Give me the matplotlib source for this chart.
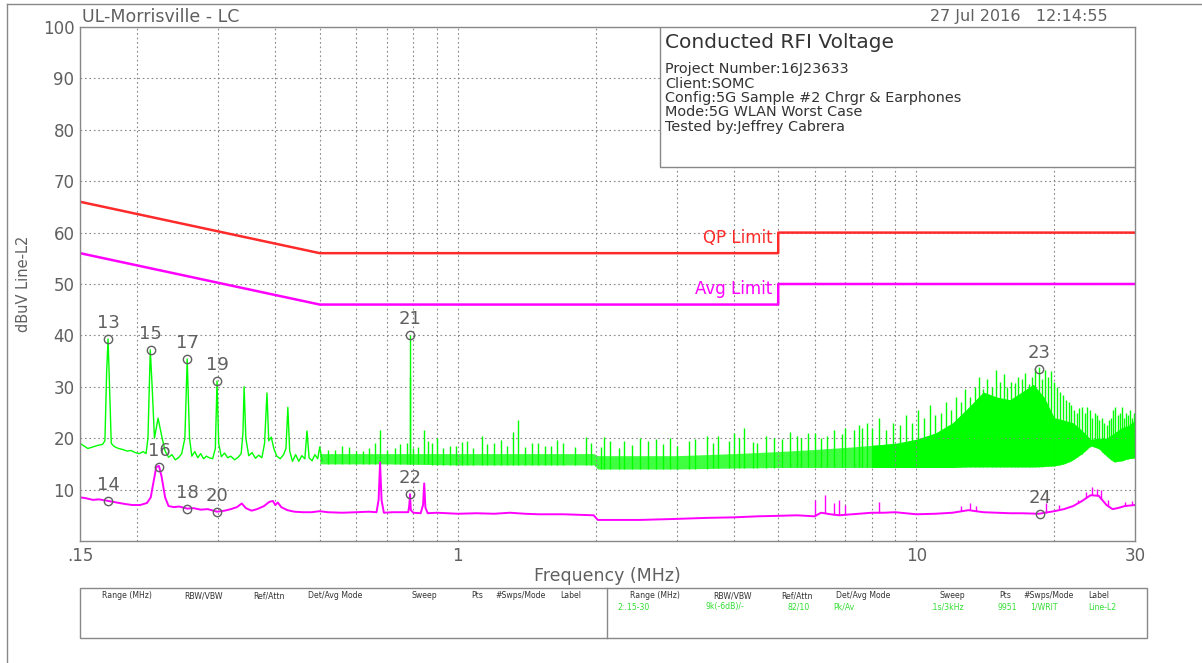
import numpy as np
import matplotlib
matplotlib.use('Agg')
import matplotlib.pyplot as plt
from matplotlib.ticker import FixedLocator, LogLocator, NullFormatter
from matplotlib.lines import Line2D

W, H = 1202, 663

# ---- data ----
# limit lines (MHz, dBuV)
qp_f = [0.15, 0.5, 5.0, 5.0, 30.0]
qp_db = [66, 56, 56, 60, 60]
avg_lim_f = [0.15, 0.5, 5.0, 5.0, 30.0]
avg_lim_db = [56, 46, 46, 50, 50]

# peak trace (green), low-frequency part
pk_f = [0.150, 0.153, 0.156, 0.160, 0.164, 0.168, 0.170, 0.1715, 0.1727, 0.1740, 0.1755,
        0.178, 0.182, 0.186, 0.190, 0.194, 0.198, 0.202, 0.206, 0.209, 0.211, 0.2135,
        0.2155, 0.218, 0.222, 0.226, 0.230, 0.234, 0.238, 0.242, 0.246, 0.250, 0.254,
        0.257, 0.260, 0.263, 0.267, 0.271, 0.275, 0.279, 0.283, 0.287, 0.292, 0.296,
        0.2985, 0.301, 0.305, 0.310, 0.315, 0.320, 0.326, 0.332, 0.337, 0.340, 0.342,
        0.345, 0.350, 0.356, 0.362, 0.368, 0.374, 0.379, 0.3836, 0.387, 0.392, 0.397,
        0.403, 0.410, 0.417, 0.422, 0.426, 0.430, 0.436, 0.443, 0.450, 0.457, 0.464,
        0.469, 0.474, 0.481, 0.488, 0.495, 0.500, 0.506]
pk_db = [19.0, 18.5, 18.0, 18.3, 18.6, 18.8, 19.5, 33.0, 39.3, 30.0, 19.0,
         18.4, 18.0, 17.8, 17.5, 17.6, 17.2, 17.0, 17.4, 17.0, 20.0, 37.2,
         30.0, 20.0, 23.9, 20.5, 17.5, 16.3, 16.8, 15.8, 16.2, 17.0, 20.0,
         35.4, 20.0, 16.5, 17.4, 16.2, 17.0, 16.0, 16.5, 16.2, 16.0, 18.0,
         31.1, 19.0, 16.4, 17.1, 16.2, 16.5, 15.8, 16.3, 17.0, 21.0, 30.0,
         20.0, 16.6, 17.2, 16.1, 16.7, 16.2, 19.0, 28.8, 19.5, 20.2, 18.0,
         16.5, 16.0, 16.8, 18.0, 26.0, 17.5, 15.5, 16.8, 15.5, 16.6, 16.0,
         21.4, 16.2, 15.6, 16.8, 16.0, 18.3, 15.6]

# peak trace noise floor, 0.5 - 9 MHz (MHz, low, high)
floor_f = [0.5, 0.7, 1.0, 1.5, 1.98, 2.02, 3.0, 4.0, 5.0, 6.0, 7.0, 8.0, 9.0]
floor_lo = [15.0, 15.0, 14.8, 14.8, 14.8, 14.0, 14.0, 14.2, 14.3, 14.3, 14.3, 14.3, 14.3]
floor_hi = [17.0, 17.0, 17.0, 17.0, 17.0, 16.6, 16.6, 17.0, 17.4, 17.8, 18.2, 18.6, 19.0]

# peak trace dense band, 8 - 30 MHz (MHz, low, high)
dense_f = [8.0, 9.0, 10, 11, 12, 13, 14, 15, 16, 17, 18, 19, 20, 21, 22, 23, 24, 25, 26,
           27, 28, 29, 30]
dense_lo = [14.3, 14.3, 14.3, 14.3, 14.3, 14.4, 14.4, 14.4, 14.4, 14.4, 14.4, 14.5, 14.6,
            15.0, 15.8, 17.0, 18.5, 18.0, 16.5, 15.4, 15.6, 16.0, 16.2]
dense_hi = [18.6, 19.0, 19.8, 21.0, 23.0, 26.0, 29.0, 28.0, 27.5, 29.0, 30.5, 28.0, 24.0,
            23.5, 23.0, 21.5, 19.8, 20.0, 20.0, 21.0, 22.0, 22.5, 23.5]

# peak trace single spikes above the noise floor
spike_f = [0.52, 0.54, 0.56, 0.58, 0.60, 0.62, 0.64, 0.66, 0.677, 0.70, 0.73, 0.75, 0.775,
           0.786, 0.787, 0.80, 0.82, 0.845, 0.86, 0.88, 0.90, 0.93, 0.96, 0.99, 1.02,
           1.05, 1.08, 1.13, 1.16, 1.20, 1.24, 1.28, 1.32, 1.35, 1.40, 1.45, 1.50, 1.55,
           1.60, 1.65, 1.70, 1.80, 1.90, 1.95, 2.05, 2.08, 2.15, 2.25, 2.30, 2.40, 2.50,
           2.60, 2.70, 2.80, 2.90, 3.0, 3.2, 3.3, 3.5, 3.6, 3.7, 3.9, 4.0, 4.1, 4.2, 4.4,
           4.5, 4.7, 4.9, 5.1, 5.3, 5.5, 5.6, 5.8, 6.0, 6.2, 6.4, 6.6, 6.9, 7.0, 7.3, 7.5,
           7.6, 7.8,
           8.0, 8.3, 8.6, 8.9, 9.2, 9.5, 9.8, 10.1, 10.4, 10.7, 11.0, 11.3, 11.6, 11.9,
           12.2, 12.5, 12.8, 13.1, 13.4, 13.7, 14.0, 14.3, 14.6, 14.9, 15.2, 15.5, 15.8,
           16.1, 16.4, 16.7, 17.0, 17.3, 17.6, 17.9, 18.2, 18.5, 18.8, 19.1, 19.4, 19.7,
           20.0, 20.3, 20.6, 20.9, 21.2, 21.5, 21.8, 22.1, 22.4, 22.7, 23.0, 23.3, 23.6,
           23.9, 24.2, 24.5, 24.8, 25.1, 25.4, 25.7, 26.0, 26.3, 26.6, 26.9, 27.2, 27.5,
           27.8, 28.1, 28.4, 28.7, 29.0, 29.3, 29.6, 29.9]
spike_db = [17.8, 17.8, 18.5, 18.2, 17.5, 17.5, 18.0, 19.0, 21.6, 17.8, 18.0, 18.8, 19.0,
            32.0, 40.1, 18.0, 18.2, 21.6, 19.5, 19.0, 20.0, 18.0, 18.5, 18.5, 19.2,
            19.5, 18.0, 20.5, 18.8, 19.0, 19.6, 18.4, 21.2, 23.5, 18.2, 19.0, 19.0, 18.5,
            18.5, 19.6, 19.0, 18.3, 20.3, 19.0, 18.2, 20.3, 19.5, 18.0, 19.5, 18.6, 20.0,
            19.5, 19.8, 18.8, 20.0, 18.5, 19.5, 19.8, 20.5, 19.0, 20.5, 19.5, 21.0, 20.0,
            22.0, 19.2, 19.0, 20.5, 20.0, 19.8, 21.3, 20.5, 20.0, 21.0, 21.0, 20.0, 20.5,
            21.5, 20.8, 22.0, 21.5, 22.5, 22.0, 23.0,
            22.0, 24.0, 21.5, 23.0, 22.5, 24.5, 23.0, 25.5, 24.0, 26.5, 24.5, 25.0, 27.0,
            25.5, 28.0, 27.0, 29.5, 28.0, 30.0, 32.0, 29.5, 31.5, 30.0, 33.3, 31.0, 32.5,
            30.0, 31.0, 30.7, 32.0, 31.5, 32.7, 30.5, 32.0, 33.6, 33.8, 31.5, 33.3, 32.0,
            33.0, 31.0, 30.0, 29.0, 28.5, 27.4, 27.0, 26.5, 25.5, 25.0, 25.8, 26.0, 25.0,
            26.0, 25.5, 24.0, 25.0, 24.5, 23.5, 24.0, 23.0, 22.5, 23.5, 24.0, 25.5, 26.0,
            24.5, 25.0, 26.0, 24.0, 25.0, 24.5, 25.5, 24.0, 25.0]

# average trace (magenta)
av_f = [0.150, 0.155, 0.160, 0.165, 0.1727, 0.180, 0.188, 0.195, 0.203, 0.210, 0.214,
        0.217, 0.220, 0.223, 0.226, 0.230, 0.234, 0.240, 0.247, 0.257, 0.265, 0.275,
        0.285, 0.2985, 0.310, 0.320, 0.330, 0.338, 0.345, 0.355, 0.365, 0.378, 0.388,
        0.395, 0.400, 0.405, 0.412, 0.425, 0.440, 0.460, 0.480, 0.500, 0.520, 0.560,
        0.600, 0.640, 0.665, 0.672, 0.677, 0.682, 0.690, 0.720, 0.760, 0.780, 0.784,
        0.787, 0.790, 0.800, 0.830, 0.840, 0.845, 0.850, 0.860, 0.900, 0.95, 1.0, 1.1,
        1.2, 1.3, 1.4, 1.5, 1.7, 1.98, 2.02, 2.5, 3.0, 3.5, 4.0, 4.5, 5.0, 5.5, 6.0, 6.2,
        6.5, 6.8, 7.0, 7.5, 8.0, 8.5, 9.0, 10, 11, 12, 13, 14, 15, 16, 17, 18.5, 20, 21,
        22, 23, 24, 25, 26, 26.8, 27.5, 28.5, 30]
av_db = [8.5, 8.3, 8.0, 8.1, 7.8, 7.5, 7.2, 7.0, 7.0, 7.4, 8.5,
         11.5, 14.4, 14.6, 12.5, 8.5, 6.8, 6.6, 6.7, 6.3, 6.4, 6.1,
         6.2, 5.7, 5.9, 6.2, 6.6, 7.3, 6.4, 5.9, 6.2, 6.8, 7.6,
         7.8, 7.0, 7.5, 6.6, 6.0, 5.7, 5.6, 5.6, 5.8, 5.6, 5.5,
         5.6, 5.7, 5.6, 8.0, 15.3, 8.0, 5.5, 5.6, 5.6, 5.6, 7.0,
         9.1, 6.0, 5.5, 5.4, 7.0, 11.2, 6.5, 5.4, 5.5, 5.4, 5.3, 5.4,
         5.3, 5.5, 5.3, 5.2, 5.2, 5.0, 4.1, 4.1, 4.3, 4.5, 4.6, 4.8, 4.9, 5.0, 4.8, 5.5,
         5.2, 5.0, 5.1, 5.3, 5.5, 5.5, 5.6, 5.2, 5.3, 5.5, 6.0, 5.6, 5.5, 5.4, 5.4, 5.3, 5.8, 6.2,
         6.8, 7.8, 8.9, 8.8, 7.0, 6.2, 6.4, 6.8, 7.0]
av_spike_f = [6.0, 6.33, 6.6, 6.8, 7.0, 8.3, 12.5, 13.1, 13.5, 19.2, 20.5, 22.5, 23.5,
              24.2, 24.8, 25.3, 26.2, 28.5, 29.5]
av_spike_db = [8.0, 9.0, 7.4, 8.0, 7.0, 7.6, 6.8, 7.4, 6.8, 7.4, 7.0, 8.0, 9.5,
               10.5, 10.2, 10.0, 8.0, 7.5, 7.8]

# markers
mk_num = ['13', '14', '15', '16', '17', '18', '19', '20', '21', '22', '23', '24']
mk_f = [0.1727, 0.1727, 0.214, 0.223, 0.257, 0.257, 0.2985, 0.2985, 0.787, 0.787, 18.5, 18.6]
mk_db = [39.3, 7.8, 37.2, 14.4, 35.4, 6.2, 31.1, 5.6, 40.1, 9.1, 33.5, 5.3]

x_ticks = [0.15, 1, 10, 30]
x_ticklabels = ['.15', '1', '10', '30']
y_ticks = [10, 20, 30, 40, 50, 60, 70, 80, 90, 100]

info_lines = ['Project Number:16J23633', 'Client:SOMC',
              'Config:5G Sample #2 Chrgr & Earphones', 'Mode:5G WLAN Worst Case',
              'Tested by:Jeffrey Cabrera']
tbl_head = ['Range (MHz)', 'RBW/VBW', 'Ref/Attn', 'Det/Avg Mode', 'Sweep', 'Pts',
            '#Swps/Mode', 'Label']
tbl_vals = ['2:.15-30', '9k(-6dB)/-', '82/10', 'Pk/Av', '.1s/3kHz', '9951', '1/WRIT', 'Line-L2']

GREEN = '#00ff00'
MAG = '#ff00ff'
RED = '#ff2a2a'
GRAY = '#606060'


def fx(px):
    return px / W


def fy(py):
    return 1 - py / H


fig = plt.figure(figsize=(W / 100, H / 100), dpi=100)
ax = fig.add_axes([fx(80), fy(541), fx(1055), 514 / H])

ax.set_xscale('log')
ax.set_xlim(0.15, 30)
ax.set_ylim(0, 100)

# traces
ax.fill_between(floor_f, floor_lo, floor_hi, color=GREEN, lw=0, alpha=0.75)
ax.fill_between(dense_f, dense_lo, dense_hi, color=GREEN, lw=0)
spike_base = np.interp(spike_f, floor_f + dense_f[2:], floor_lo + dense_lo[2:])
ax.vlines(spike_f, spike_base, spike_db, color=GREEN, lw=1)
ax.plot(pk_f, pk_db, color=GREEN, lw=1)
ax.vlines(av_spike_f, np.interp(av_spike_f, av_f, av_db), av_spike_db, color=MAG, lw=1)
ax.plot(av_f, av_db, color=MAG, lw=1.4)

# limits
ax.plot(qp_f, qp_db, color=RED, lw=1.8)
ax.plot(avg_lim_f, avg_lim_db, color=MAG, lw=1.8)
ax.text(4.85, 57.2, 'QP Limit', color=RED, fontsize=12, ha='right', va='bottom')
ax.text(4.85, 47.2, 'Avg Limit', color=MAG, fontsize=12, ha='right', va='bottom')

# markers
ax.plot(mk_f, mk_db, 'o', mfc='none', mec=GRAY, ms=6, mew=1)
for n, f, d in zip(mk_num, mk_f, mk_db):
    ax.annotate(n, (f, d), xytext=(0, 5), textcoords='offset points',
                ha='center', va='bottom', fontsize=13, color=GRAY)

# axes styling
ax.xaxis.set_major_locator(FixedLocator(x_ticks))
ax.set_xticklabels(x_ticklabels)
ax.xaxis.set_minor_locator(LogLocator(subs=range(2, 10)))
ax.xaxis.set_minor_formatter(NullFormatter())
ax.set_yticks(y_ticks)
ax.tick_params(which='both', length=0, labelsize=12, labelcolor=GRAY)
ax.tick_params(axis='x', pad=4)
ax.tick_params(axis='y', pad=4)
ax.grid(which='both', color='#888888', lw=0.8, ls=(0, (1.5, 2.5)))
for s in ax.spines.values():
    s.set_color('#888888')
    s.set_linewidth(1)
ax.set_xlabel('Frequency (MHz)', fontsize=12.5, color=GRAY, labelpad=2)
fig.text(fx(24), fy(284), 'dBuV Line-L2', rotation=90, fontsize=10.5, color=GRAY,
         ha='center', va='center')

# info box
ax.add_patch(plt.Rectangle((0.5498, 0.7276), 0.4502, 0.2724, transform=ax.transAxes,
                           fc='white', ec='#888888', lw=1, zorder=5))
fig.text(fx(665), fy(43), 'Conducted RFI Voltage', fontsize=14.5, color='#333333',
         va='center', zorder=6)
for i, line in enumerate(info_lines):
    fig.text(fx(665), fy(69 + 14.5 * i), line, fontsize=10.4, color='#333333',
             va='center', zorder=6)

# header
fig.text(fx(82), fy(17), 'UL-Morrisville - LC', fontsize=12.5, color=GRAY, va='center')
fig.text(fx(1108), fy(17), '27 Jul 2016   12:14:55', fontsize=11.5, color=GRAY,
         va='center', ha='right')

# page border lines
fig.add_artist(Line2D([fx(7), fx(7)], [fy(4), 0], color='#888888', lw=1))
fig.add_artist(Line2D([fx(7), 1], [fy(4), fy(4)], color='#888888', lw=1))

# settings table
fig.add_artist(plt.Rectangle((fx(80), fy(638)), fx(1147) - fx(80), fy(588) - fy(638),
                             fill=False, ec='#888888', lw=1))
fig.add_artist(Line2D([fx(607), fx(607)], [fy(588), fy(638)], color='#888888', lw=1))
head_x = [127, 204, 269, 335, 424, 477, 521, 571]
for hx, txt in zip(head_x, tbl_head):
    fig.text(fx(hx), fy(596), txt, fontsize=5.6, color='#333333', ha='center', va='center')
    fig.text(fx(hx + 528), fy(596), txt, fontsize=5.6, color='#333333', ha='center',
             va='center')
val_x = [617, 705, 787, 833, 930, 997, 1030, 1088]
for vx, txt in zip(val_x, tbl_vals):
    fig.text(fx(vx), fy(607), txt, fontsize=5.6, color='#33dd33', ha='left', va='center')

fig.savefig('out.png', dpi=100)
